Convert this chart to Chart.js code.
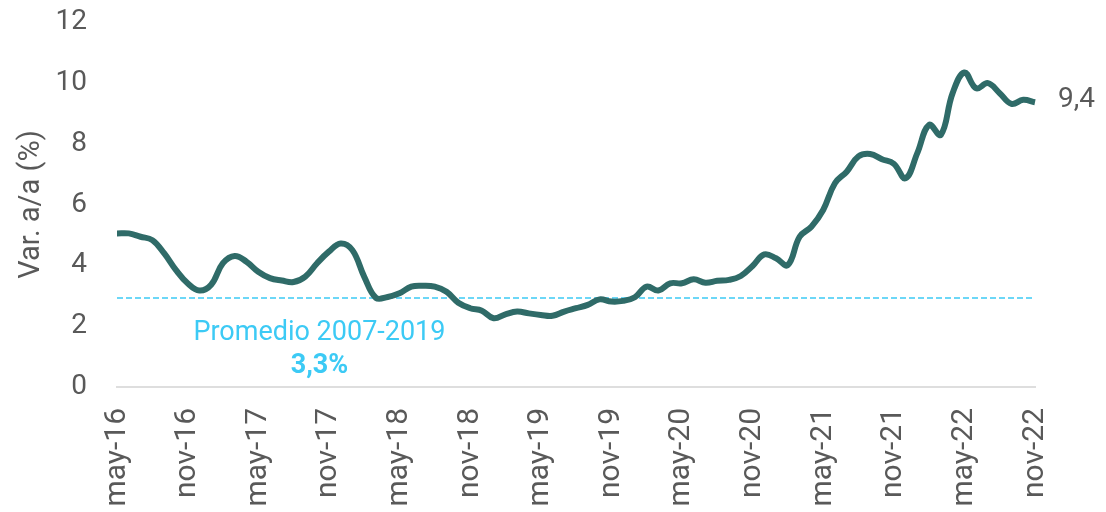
<!DOCTYPE html>
<html>
<head>
<meta charset="utf-8">
<script src="https://cdn.jsdelivr.net/npm/chart.js@4"></script>
<style>
  body { margin: 0; background: #fff; }
</style>
</head>
<body>
<canvas id="chart-ipc" width="1106" height="512"></canvas>
<script>
const meses = ['ene', 'feb', 'mar', 'abr', 'may', 'jun', 'jul', 'ago', 'sep', 'oct', 'nov', 'dic'];

// may-16 .. nov-22, monthly
const etiquetas = [];
for (let a = 2016; a <= 2022; a++) {
  for (let m = 0; m < 12; m++) {
    if (a === 2016 && m < 4) continue;
    if (a === 2022 && m > 10) continue;
    etiquetas.push(meses[m] + '-' + String(a).slice(2));
  }
}

const variacion = [
  5.05, 5.05, 4.94, 4.83, 4.4, 3.85, 3.41, 3.17, 3.36, 4.07,
  4.31, 4.12, 3.79, 3.58, 3.5, 3.45, 3.63, 4.07, 4.45, 4.72,
  4.5, 3.63, 2.93, 2.96, 3.08, 3.3, 3.33, 3.3, 3.13, 2.77,
  2.59, 2.51, 2.26, 2.39, 2.48, 2.42, 2.37, 2.34, 2.48, 2.59,
  2.7, 2.88, 2.81, 2.83, 2.95, 3.3, 3.17, 3.41, 3.41, 3.54,
  3.43, 3.49, 3.52, 3.65, 3.98, 4.36, 4.23, 4.01, 4.94, 5.27,
  5.82, 6.7, 7.08, 7.58, 7.66, 7.49, 7.34, 6.86, 7.69, 8.62,
  8.29, 9.66, 10.34, 9.82, 9.99, 9.66, 9.31, 9.44, 9.36
];

const promedioLinea = 2.93;
const promedioTexto = ['Promedio 2007-2019', '3,3%'];

const gris = '#595959';
const celeste = '#3ccaf5';

const textos = {
  id: 'textos',
  afterDatasetsDraw(chart) {
    const c = chart.ctx;
    const x = chart.scales.x;
    const y = chart.scales.y;
    c.save();
    // end label
    const ult = variacion.length - 1;
    c.fillStyle = gris;
    c.font = '28px Roboto';
    c.textAlign = 'left';
    c.textBaseline = 'alphabetic';
    c.fillText(variacion[ult].toFixed(1).replace('.', ','), x.getPixelForValue(ult) + 23, y.getPixelForValue(variacion[ult]) + 5);
    // promedio label
    const px = x.getPixelForValue(17.2);
    const py = y.getPixelForValue(promedioLinea);
    c.fillStyle = celeste;
    c.textAlign = 'center';
    c.font = '27px Roboto';
    c.fillText(promedioTexto[0], px, py + 42);
    c.font = 'bold 27px Roboto';
    c.fillText(promedioTexto[1], px, py + 75);
    c.restore();
  }
};

document.addEventListener("DOMContentLoaded", function () {

  const ctx = document.getElementById('chart-ipc');

  new Chart(ctx, {
    type: 'line',
    data: {
      labels: etiquetas,
      datasets: [{
        data: variacion,
        borderColor: '#2f6b68',
        borderWidth: 6,
        pointRadius: 0,
        tension: 0.4,
        fill: false
      }, {
        data: [
          { x: etiquetas[0], y: promedioLinea },
          { x: etiquetas[etiquetas.length - 1], y: promedioLinea }
        ],
        borderColor: celeste,
        borderWidth: 1.5,
        borderDash: [6, 3],
        pointRadius: 0,
        fill: false
      }]
    },
    options: {
      responsive: false,
      animation: false,
      layout: {
        padding: { top: 22, right: 71, left: 0, bottom: 0 }
      },
      plugins: {
        legend: false,
        tooltip: { enabled: false }
      },
      scales: {
        x: {
          grid: { display: false, drawTicks: false },
          border: { display: true, color: '#dedede', width: 2 },
          ticks: {
            autoSkip: false,
            minRotation: 90,
            maxRotation: 90,
            padding: 21,
            color: gris,
            font: { family: 'Roboto', size: 30 },
            callback: function (v, i) {
              return i % 6 === 0 ? etiquetas[i] : '';
            }
          },
          afterFit: function (s) {
            s.height = 125;
            s.paddingLeft = 0;
            s.paddingRight = 0;
            s.paddingTop = 0;
          }
        },
        y: {
          min: 0,
          max: 12,
          grid: { display: false, drawTicks: false },
          border: { display: false },
          ticks: {
            stepSize: 2,
            padding: 30,
            color: gris,
            font: { family: 'Roboto', size: 28 }
          },
          title: {
            display: true,
            text: 'Var. a/a (%)',
            color: gris,
            font: { family: 'Roboto', size: 29 },
            padding: { top: 14, bottom: 0 }
          },
          afterFit: function (s) {
            s.width = 117;
            s.paddingTop = 0;
            s.paddingBottom = 0;
          }
        }
      }
    },
    plugins: [textos]
  });

});
</script>
</body>
</html>
